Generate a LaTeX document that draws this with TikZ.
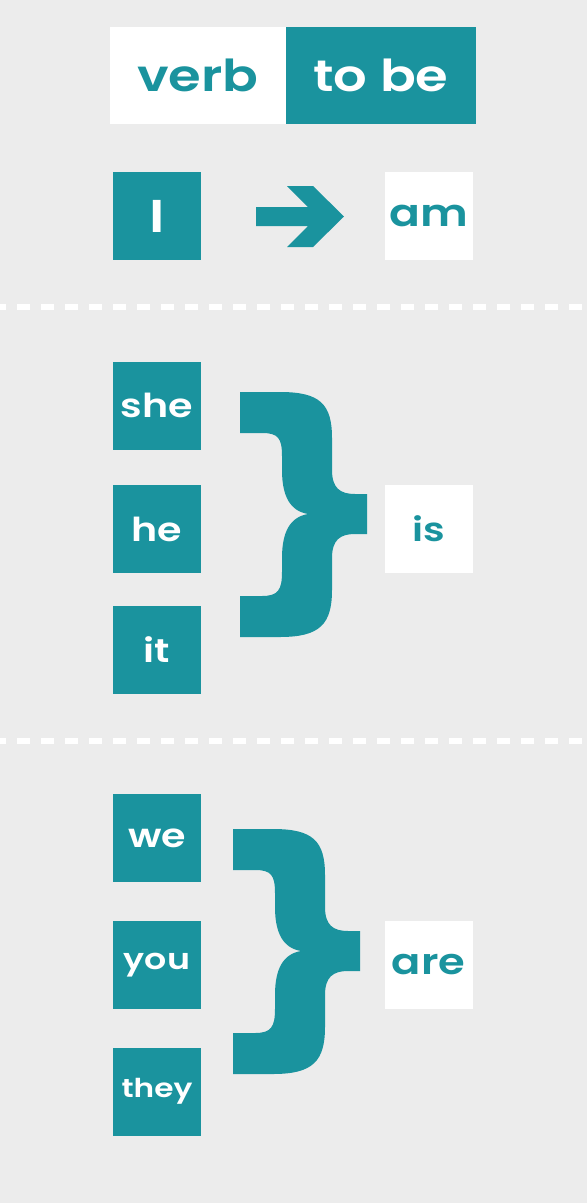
\documentclass[tikz,border=0pt]{standalone}
\usepackage{fontspec}
\newfontfamily\wordfont[FakeStretch=1.2]{Poppins SemiBold}
\definecolor{verbteal}{RGB}{26,147,158}
\definecolor{paper}{RGB}{236,236,236}

\begin{document}
\begin{tikzpicture}[x=1pt, y=-1pt,
            pron/.style={fill=verbteal, text=white, minimum size=88pt, inner sep=0pt,
                font=\wordfont\fontsize{33}{33}\selectfont},
            form/.style={pron, fill=white, text=verbteal},
            sep/.style={white, line width=6pt, dash pattern=on 12.7pt off 11.3pt, dash phase=6.7pt}]

            \fill[paper] (0,0) rectangle (587,1203);
            \useasboundingbox (0,0) rectangle (587,1203);

            \node[form, minimum width=176pt, minimum height=97pt, font=\wordfont\fontsize{44}{44}\selectfont] (verb) at (198,75.5) {verb};
            \node[pron, minimum width=190pt, minimum height=97pt, font=\wordfont\fontsize{44}{44}\selectfont] (tobe) at (381,75.5) {to be};

            \node[pron, font=\wordfont\fontsize{46}{46}\selectfont] (i) at (157,216) {I};
            \node[form, font=\wordfont\fontsize{38}{38}\selectfont] (am) at (428.5,216) {am};
            \fill[verbteal] (256,207) -- (308,207) -- (287,186) -- (313,186) -- (344,216.5)
                -- (313,247) -- (287,247) -- (308,226) -- (256,226) -- cycle;

            \draw[sep] (0,307) -- (587,307);

            \node[pron] (she) at (157,405.5) {she};
            \node[pron] (he) at (157,529) {he};
            \node[pron] (it) at (157,649.5) {it};
            \node[form] (is) at (428.5,529) {is};

            \draw[sep] (0,741) -- (587,741);

            \node[pron] (we) at (157,838) {we};
            \node[pron, font=\wordfont\fontsize{29}{29}\selectfont] (you) at (157,965) {you};
            \node[pron, font=\wordfont\fontsize{26}{26}\selectfont] (they) at (157,1091.5) {they};
            \node[form, font=\wordfont\fontsize{36}{36}\selectfont] (are) at (428.5,965) {are};

            \foreach \bx/\by in {240/392, 233/829}
                \fill[verbteal, shift={(\bx,\by)}] (0,0) -- (40,0) .. controls (80,0) and (92,12) .. (92,46)
                    -- (92,78) .. controls (92,96) and (100,102) .. (115,102) -- (127,102) -- (127,142)
                    -- (115,142) .. controls (100,142) and (92,148) .. (92,166) -- (92,198)
                    .. controls (92,232) and (80,245) .. (40,245) -- (0,245) -- (0,204) -- (22,204)
                    .. controls (38,204) and (42,198) .. (42,180) -- (42,166)
                    .. controls (42,140) and (50,125) .. (68,122)
                    .. controls (50,119) and (42,104) .. (42,78) -- (42,64)
                    .. controls (42,46) and (38,41) .. (22,41) -- (0,41) -- cycle;
        \end{tikzpicture}
\end{document}
